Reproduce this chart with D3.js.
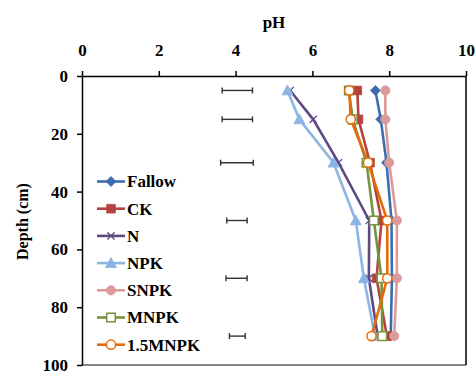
<!DOCTYPE html>
<html>
<head>
<meta charset="utf-8">
<script src="https://cdn.jsdelivr.net/npm/d3@7"></script>
<style>
  body { margin: 0; background: #fff; }
  svg text { font-family: "Liberation Serif", "Times New Roman", serif; font-weight: bold; }
</style>
</head>
<body>
<div id="chart"></div>
<script>
// depth (cm) of each sample
const depths = [5, 15, 30, 50, 70, 90];

// pH per treatment
const fallow = [7.64, 7.78, 7.93, 8.06, 8.07, 8.04];
const ck = [7.17, 7.20, 7.50, 7.80, 7.67, 7.94];
const nOnly = [5.42, 6.02, 6.68, 7.48, 7.47, 7.70];
const npk = [5.35, 5.66, 6.55, 7.13, 7.34, 7.63];
const snpk = [7.90, 7.90, 8.00, 8.20, 8.20, 8.13];
const mnpk = [6.95, 7.05, 7.41, 7.60, 7.80, 7.82];
const mnpk15 = [6.96, 7.00, 7.45, 7.95, 7.95, 7.54];

// LSD bars
const lsdLow = [3.65, 3.65, 3.61, 3.77, 3.75, 3.84];
const lsdHigh = [4.44, 4.44, 4.46, 4.30, 4.30, 4.25];

const xTicks = [0, 2, 4, 6, 8, 10];
const yTicks = [0, 20, 40, 60, 80, 100];

const seriesNames = ['Fallow', 'CK', 'N', 'NPK', 'SNPK', 'MNPK', '1.5MNPK'];
const seriesValues = [fallow, ck, nOnly, npk, snpk, mnpk, mnpk15];

const styles = {
    'Fallow':  { color: '#3c6db0', marker: 'diamond', fill: true },
    'CK':      { color: '#b4423e', marker: 'square', fill: true },
    'N':       { color: '#5e4a80', marker: 'x', fill: false },
    'NPK':     { color: '#8db4e3', marker: 'triangle', fill: true },
    'SNPK':    { color: '#dd9a9a', marker: 'circle', fill: true },
    'MNPK':    { color: '#77943c', marker: 'square', fill: false },
    '1.5MNPK': { color: '#e46c0a', marker: 'circle', fill: false }
};

// custom marker shapes, s is a half-size in px
const markerTypes = {
    diamond: { draw(p, s) { p.moveTo(0, -s); p.lineTo(s, 0); p.lineTo(0, s); p.lineTo(-s, 0); p.closePath(); } },
    square: { draw(p, s) { p.rect(-s, -s, 2 * s, 2 * s); } },
    triangle: { draw(p, s) { p.moveTo(0, -s); p.lineTo(s, s * 0.8); p.lineTo(-s, s * 0.8); p.closePath(); } },
    circle: { draw(p, s) { p.moveTo(s, 0); p.arc(0, 0, s, 0, 2 * Math.PI); } },
    x: { draw(p, s) { p.moveTo(-s, -s); p.lineTo(s, s); p.moveTo(s, -s); p.lineTo(-s, s); } }
};
const markerSize = { diamond: 5, square: 4.3, triangle: 5.5, circle: 4.6, x: 3.6 };

const width = 476, height = 373;
const margin = { top: 76, right: 10, bottom: 8, left: 82 };

const svg = d3.select('#chart').append('svg')
    .attr('width', width)
    .attr('height', height);

const x = d3.scaleLinear().domain([0, 10]).range([margin.left, width - margin.right]);
const y = d3.scaleLinear().domain([0, 100]).range([margin.top, height - margin.bottom]);

// plot frame: gray bottom, black right
svg.append('line')
    .attr('x1', x(0)).attr('x2', x(10))
    .attr('y1', y(100)).attr('y2', y(100))
    .attr('stroke', '#858585').attr('stroke-width', 2);
svg.append('line')
    .attr('x1', x(10)).attr('x2', x(10))
    .attr('y1', y(0)).attr('y2', y(100))
    .attr('stroke', '#000').attr('stroke-width', 1.5);

const xAxis = d3.axisTop(x).tickValues(xTicks).tickSize(5).tickPadding(15).tickSizeOuter(0);
const yAxis = d3.axisLeft(y).tickValues(yTicks).tickSize(5).tickPadding(9).tickSizeOuter(0);

svg.append('g')
    .attr('transform', `translate(0,${y(0)})`)
    .call(xAxis)
    .call(g => g.selectAll('text').attr('font-size', 17).attr('fill', '#000'))
    .call(g => g.selectAll('path, line').attr('stroke', '#000').attr('stroke-width', 1.5));

svg.append('g')
    .attr('transform', `translate(${x(0)},0)`)
    .call(yAxis)
    .call(g => g.selectAll('text').attr('font-size', 17).attr('fill', '#000'))
    .call(g => g.selectAll('path, line').attr('stroke', '#000').attr('stroke-width', 1.5));

svg.append('text')
    .attr('x', (x(0) + x(10)) / 2)
    .attr('y', 28)
    .attr('text-anchor', 'middle')
    .attr('font-size', 17)
    .text('pH');

svg.append('text')
    .attr('transform', `translate(28,${(y(0) + y(100)) / 2 + 1}) rotate(-90)`)
    .attr('text-anchor', 'middle')
    .attr('font-size', 16)
    .text('Depth (cm)');

// LSD error bars
const lsd = depths.map((d, i) => ({ depth: d, lo: lsdLow[i], hi: lsdHigh[i] }));
const bars = svg.append('g').attr('stroke', '#333').attr('stroke-width', 1.4);
bars.selectAll('.bar').data(lsd).join('line')
    .attr('x1', d => x(d.lo)).attr('x2', d => x(d.hi))
    .attr('y1', d => y(d.depth)).attr('y2', d => y(d.depth));
bars.selectAll('.capl').data(lsd).join('line')
    .attr('x1', d => x(d.lo)).attr('x2', d => x(d.lo))
    .attr('y1', d => y(d.depth) - 3).attr('y2', d => y(d.depth) + 3);
bars.selectAll('.caph').data(lsd).join('line')
    .attr('x1', d => x(d.hi)).attr('x2', d => x(d.hi))
    .attr('y1', d => y(d.depth) - 3).attr('y2', d => y(d.depth) + 3);

function drawMarker(sel, name) {
    let st = styles[name];
    sel.attr('d', d3.symbol().type(markerTypes[st.marker]).size(markerSize[st.marker]))
        .attr('fill', st.marker === 'x' ? 'none' : (st.fill ? st.color : '#fff'))
        .attr('stroke', st.color)
        .attr('stroke-width', st.marker === 'x' ? 1.3 : (st.fill ? 0.8 : 1.5));
}

// d3.symbol passes size straight to draw(), so size here is the half-size in px
const line = d3.line()
    .x(d => x(d.ph))
    .y(d => y(d.depth));

seriesNames.forEach(function(name, k) {
    let pts = depths.map((d, i) => ({ depth: d, ph: seriesValues[k][i] }));
    let g = svg.append('g');
    g.append('path')
        .datum(pts)
        .attr('d', line)
        .attr('fill', 'none')
        .attr('stroke', styles[name].color)
        .attr('stroke-width', 2.6);
    g.selectAll('.pt').data(pts).join('path')
        .attr('transform', d => `translate(${x(d.ph)},${y(d.depth)})`)
        .call(drawMarker, name);
});

// legend
const legend = svg.append('g').attr('transform', 'translate(97,181.5)');
seriesNames.forEach(function(name, i) {
    let row = legend.append('g').attr('transform', `translate(0,${i * 27.2})`);
    row.append('line')
        .attr('x1', 0).attr('x2', 28)
        .attr('stroke', styles[name].color)
        .attr('stroke-width', 2.6);
    row.append('path')
        .attr('transform', 'translate(14,0)')
        .call(drawMarker, name);
    row.append('text')
        .attr('x', 30)
        .attr('dy', '0.35em')
        .attr('font-size', 17)
        .text(name);
});
</script>
</body>
</html>
